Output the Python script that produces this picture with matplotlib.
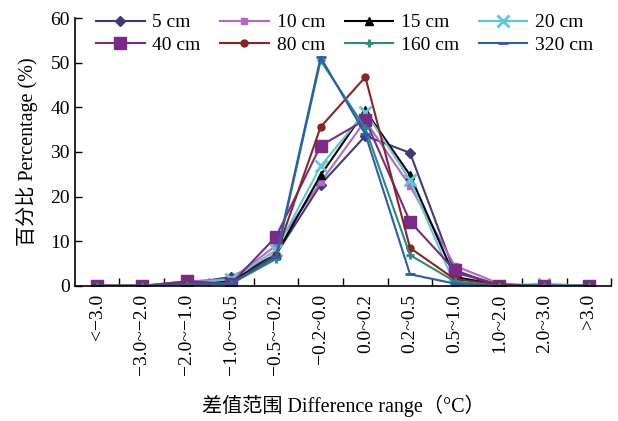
import matplotlib
matplotlib.use("Agg")
import matplotlib.pyplot as plt

plt.rcParams['font.family'] = ['Liberation Serif', 'Noto Sans CJK SC']

# 差值区间
categories = ["<\u22123.0", "\u22123.0~\u22122.0", "\u22122.0~\u22121.0", "\u22121.0~\u22120.5",
              "\u22120.5~\u22120.2", "\u22120.2~0.0", "0.0~0.2", "0.2~0.5",
              "0.5~1.0", "1.0~2.0", "2.0~3.0", ">3.0"]

depth_5 = [0, 0, 0.5, 2.0, 7.0, 22.7, 33.6, 29.8, 3.0, 0.3, 0, 0]
depth_10 = [0, 0, 1.0, 1.5, 9.0, 23.2, 37.0, 22.4, 4.5, 0.5, 0, 0]
depth_15 = [0, 0, 0.5, 1.0, 7.0, 24.8, 39.3, 24.8, 2.0, 0.2, 0, 0]
depth_20 = [0, 0, 0.5, 1.5, 8.0, 26.8, 39.0, 23.7, 0.3, 0, 0.5, 0]
depth_40 = [0, 0, 1.0, 0.5, 11.0, 31.4, 37.2, 14.4, 3.5, 0, 0, 0]
depth_80 = [0, 0, 0.5, 0.5, 7.0, 35.6, 46.8, 8.5, 1.5, 0.3, 0, 0]
depth_160 = [0, 0, 0.3, 0.5, 6.0, 50.5, 35.3, 6.9, 1.0, 0, 0, 0]
depth_320 = [0, 0, 0.3, 0.5, 6.5, 51.2, 34.0, 2.6, 0.5, 0, 0, 0]

series = [
    ("5 cm", depth_5, "#3c3c7c", "D", 5),
    ("10 cm", depth_10, "#b868c4", "s", 5),
    ("15 cm", depth_15, "#000000", "^", 6),
    ("20 cm", depth_20, "#5cc8d8", "x", 8),
    ("40 cm", depth_40, "#7a2a88", "s", 8),
    ("80 cm", depth_80, "#8c2424", "o", 5),
    ("160 cm", depth_160, "#2a8a7c", "+", 6),
    ("320 cm", depth_320, "#2a5cb4", "_", 7),
]

fig = plt.figure(figsize=(6.18, 4.21), dpi=100)
ax = fig.add_axes([0.121, 0.321, 0.868, 0.636])

x = list(range(len(categories)))
handles = {}
for label, vals, color, mk, ms in series:
    mew = 2.0 if mk in ("x", "+", "_") else 1.0
    h, = ax.plot(x, vals, color=color, marker=mk, markersize=ms, linewidth=1.5,
                 markeredgewidth=mew, label=label)
    handles[label] = h

ax.set_xlim(-0.5, len(categories) - 0.5)
ax.set_ylim(0, 60)
ax.set_yticks(range(0, 61, 10))
ax.set_xticks(x)
ax.set_xticklabels(categories, rotation=90, fontsize=14)
ax.set_xticks([i + 0.5 for i in x], minor=True)
ax.tick_params(axis='x', which='major', length=0, pad=6)
ax.tick_params(axis='x', which='minor', direction='in', length=6, width=1)
ax.tick_params(axis='y', direction='in', length=5, width=1, labelsize=14)
for s in ("top", "right"):
    ax.spines[s].set_visible(False)
for s in ("left", "bottom"):
    ax.spines[s].set_linewidth(1.2)

ax.set_ylabel("百分比 Percentage (%)", fontsize=14.5, labelpad=9)
ax.set_xlabel("差值范围 Difference range（°C）", fontsize=14.5, labelpad=14)

order = ["5 cm", "40 cm", "10 cm", "80 cm", "15 cm", "160 cm", "20 cm", "320 cm"]
ax.legend([handles[k] for k in order], order, ncol=4, frameon=False, fontsize=14,
          loc='upper left', bbox_to_anchor=(0.025, 1.045), handlelength=2.5,
          columnspacing=1.0, handletextpad=0.4, labelspacing=0.25, borderaxespad=0)

fig.savefig("out.png", dpi=100)
